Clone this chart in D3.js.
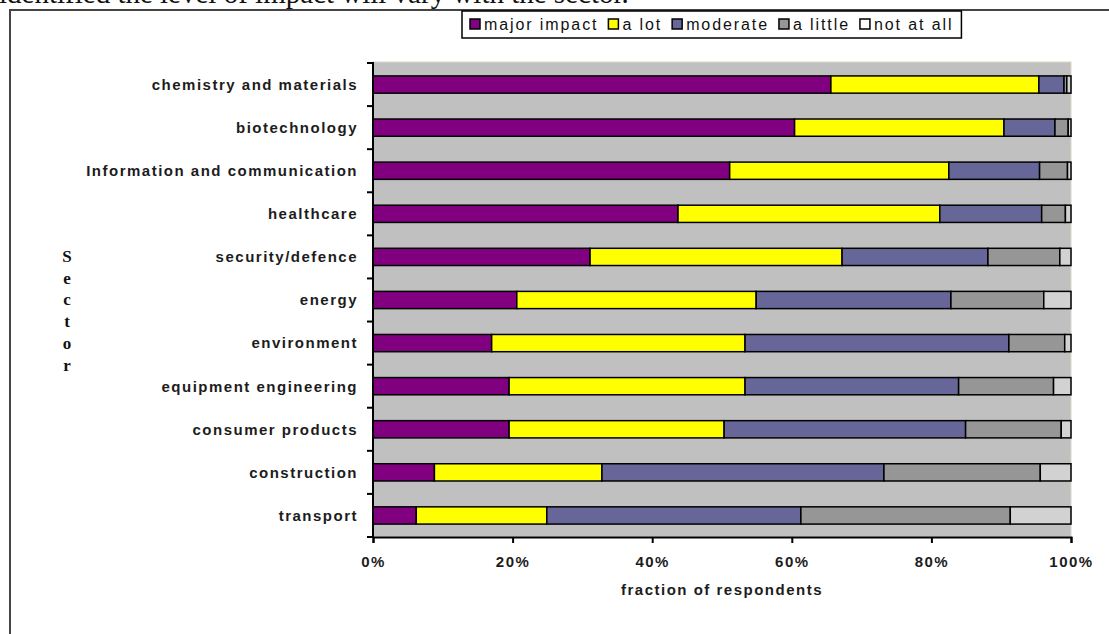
<!DOCTYPE html>
<html>
<head>
<meta charset="utf-8">
<style>
  body { margin: 0; background: #fff; }
  .cat, .tick-lbl, .axis-title {
    font-family: 'Liberation Sans', Arial, sans-serif;
    font-weight: bold;
    font-size: 15px;
    letter-spacing: 1.5px;
    fill: #1c1c1c;
  }
  .leg {
    font-family: 'Liberation Sans', Arial, sans-serif;
    font-size: 16px;
    letter-spacing: 1.9px;
    fill: #111;
  }
  .sector {
    font-family: 'Liberation Serif', 'Times New Roman', serif;
    font-weight: bold;
    font-size: 17px;
    fill: #111;
  }
</style>
</head>
<body>
<svg width="1109" height="634"></svg>
<script src="https://d3js.org/d3.v7.min.js"></script>
<script>

// categories (top to bottom)
var sectors = ["chemistry and materials", "biotechnology", "Information and communication",
  "healthcare", "security/defence", "energy", "environment", "equipment engineering",
  "consumer products", "construction", "transport"];

var levels = ["major impact", "a lot", "moderate", "a little", "not at all"];

// percentages of respondents per level, one value per sector
var majorImpact = [65.6, 60.4, 51.1, 43.7, 31.1, 20.6, 17.0, 19.5, 19.5, 8.8, 6.2];
var aLot        = [29.8, 30.0, 31.4, 37.5, 36.1, 34.3, 36.3, 33.8, 30.8, 24.0, 18.7];
var moderate    = [ 3.6,  7.3, 13.0, 14.6, 20.9, 27.9, 37.8, 30.6, 34.6, 40.4, 36.4];
var aLittle     = [ 0.4,  1.9,  4.0,  3.4, 10.3, 13.3,  8.0, 13.6, 13.7, 22.4, 30.0];
var notAtAll    = [ 0.6,  0.4,  0.5,  0.8,  1.6,  3.9,  0.9,  2.5,  1.4,  4.4,  8.7];

var xTicks = [0, 20, 40, 60, 80, 100];

var barColors = ["#800080", "#FFFF00", "#666699", "#969696", "#D2D2D2"];
var legColors = ["#800080", "#FFFF00", "#666699", "#969696", "#FFFFFF"];

var series = [majorImpact, aLot, moderate, aLittle, notAtAll];
var rows = sectors.map(function (s, i) {
  var r = { sector: s };
  levels.forEach(function (l, j) { r[l] = series[j][i]; });
  return r;
});
var stacked = d3.stack().keys(levels)(rows);

var svg = d3.select("svg");

// text of the page cut off above the figure
svg.append("text")
  .attr("x", -1).attr("y", 3)
  .style("font-family", "'Liberation Serif', 'Times New Roman', serif")
  .style("font-size", "29px")
  .style("fill", "#111")
  .text("identified the level of impact will vary with the sector.");

// figure frame
svg.append("rect")
  .attr("x", 10).attr("y", 10)
  .attr("width", 1130).attr("height", 700)
  .attr("fill", "none")
  .attr("stroke", "#444")
  .attr("stroke-width", 2);

var pLeft = 373, pRight = 1071, pTop = 63, pBottom = 537;

var x = d3.scaleLinear().domain([0, 100]).range([pLeft, pRight]);
var y = d3.scaleBand().domain(sectors).range([pTop, pBottom])
  .paddingInner(0.6).paddingOuter(0.3);

// plot area
svg.append("rect")
  .attr("x", pLeft).attr("y", pTop - 1)
  .attr("width", pRight - pLeft).attr("height", pBottom - pTop + 1)
  .attr("fill", "#C0C0C0")
  .attr("stroke", "#d8d8c8")
  .attr("stroke-width", 1);

// bars
var g = svg.append("g");
g.selectAll("g.layer")
  .data(stacked)
  .enter().append("g")
  .attr("class", "layer")
  .attr("fill", function (d, i) { return barColors[i]; })
  .selectAll("rect")
  .data(function (d) { return d; })
  .enter().append("rect")
  .attr("x", function (d) { return x(d[0]); })
  .attr("y", function (d) { return y(d.data.sector); })
  .attr("width", function (d) { return x(d[1]) - x(d[0]); })
  .attr("height", y.bandwidth())
  .attr("stroke", "#000")
  .attr("stroke-width", 1.5);

// category labels
svg.selectAll(".cat")
  .data(sectors)
  .enter().append("text")
  .attr("class", "cat")
  .attr("x", pLeft - 15)
  .attr("y", function (d) { return y(d) + y.bandwidth() / 2; })
  .attr("dy", "0.36em")
  .attr("text-anchor", "end")
  .text(function (d) { return d; });

// left axis with ticks between categories
var gap = y.step() * y.paddingInner() / 2;
var bounds = sectors.map(function (d) { return y(d) - gap; });
bounds.push(pBottom);
svg.append("line")
  .attr("x1", pLeft).attr("x2", pLeft)
  .attr("y1", pTop - 1).attr("y2", pBottom + 1)
  .attr("stroke", "#000").attr("stroke-width", 2);
svg.selectAll(".ytick")
  .data(bounds)
  .enter().append("line")
  .attr("class", "ytick")
  .attr("x1", pLeft - 6).attr("x2", pLeft)
  .attr("y1", function (d) { return d; })
  .attr("y2", function (d) { return d; })
  .attr("stroke", "#000").attr("stroke-width", 2);

// bottom axis
var xAxis = d3.axisBottom(x)
  .tickValues(xTicks)
  .tickSize(6)
  .tickFormat(function (d) { return d + "%"; });
var ax = svg.append("g")
  .attr("transform", "translate(0," + pBottom + ")")
  .call(xAxis);
ax.attr("font-size", null).attr("font-family", null);
ax.select(".domain").attr("stroke", "#000").attr("stroke-width", 2);
ax.selectAll(".tick line").attr("stroke", "#000").attr("stroke-width", 2);
ax.selectAll(".tick text")
  .attr("class", "tick-lbl")
  .attr("y", 30)
  .attr("dy", "0");

svg.append("text")
  .attr("class", "axis-title")
  .attr("x", (pLeft + pRight) / 2)
  .attr("y", 595)
  .attr("text-anchor", "middle")
  .text("fraction of respondents");

// vertical "Sector" title
svg.selectAll(".sector")
  .data("Sector".split(""))
  .enter().append("text")
  .attr("class", "sector")
  .attr("x", 67)
  .attr("y", function (d, i) { return 262 + i * 21.7; })
  .attr("text-anchor", "middle")
  .text(function (d) { return d; });

// legend
var leg = svg.append("g");
var legBox = leg.append("rect")
  .attr("x", 462).attr("y", 11)
  .attr("width", 500).attr("height", 27)
  .attr("fill", "#fff")
  .attr("stroke", "#000")
  .attr("stroke-width", 1.5);
var lx = 470;
levels.forEach(function (l, i) {
  leg.append("rect")
    .attr("x", lx).attr("y", 19)
    .attr("width", 10).attr("height", 10)
    .attr("fill", legColors[i])
    .attr("stroke", "#000").attr("stroke-width", 1.5);
  var t = leg.append("text")
    .attr("class", "leg")
    .attr("x", lx + 14).attr("y", 30)
    .text(l);
  lx += 14 + t.node().getComputedTextLength() + 10;
});
legBox.attr("width", lx - 462 - 2);

</script>
</body>
</html>
